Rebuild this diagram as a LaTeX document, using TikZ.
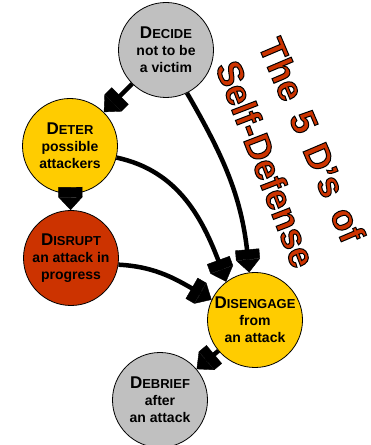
\documentclass[tikz,border=0pt]{standalone}
\usepackage{fontspec}
\setmainfont{Liberation Sans}
\usetikzlibrary{arrows.meta}
\definecolor{dyellow}{HTML}{FFCC00}
\definecolor{dgray}{HTML}{C0C0C0}
\definecolor{dred}{HTML}{CC3300}
\newcommand\bigD[2]{{\fontsize{17}{17}\selectfont #1}{\fontsize{13}{17}\selectfont #2}}
\newcommand\outlinedtext[1]{\textcolor{dred}{\special{pdf:literal direct 2 Tr 1 w 0 0 0 RG}#1\special{pdf:literal direct 0 Tr}}}
\tikzset{
  dcircle/.style={circle, draw=black, line width=0.8pt, minimum size=95pt, inner sep=0pt,
    align=center, font=\bfseries\fontsize{14}{17}\selectfont},
  conn/.style={line width=4.5pt,
    -{Rectangle[length=10pt,width=24pt,sep=0pt,line width=0.4pt]Triangle[length=13pt,width=24pt,sep=0pt,line width=0.4pt]}},
  titletext/.style={font=\bfseries\fontsize{36}{36}\selectfont, inner sep=0pt}
}
\begin{document}
\begin{tikzpicture}[x=1pt,y=1pt]
\useasboundingbox (0,0) rectangle (370,445);
\node[dcircle, fill=dgray]   (decide)    at (166,395) {\bigD{D}{ECIDE}\\not to be\\a victim};
\node[dcircle, fill=dyellow] (deter)     at (70,299)  {\bigD{D}{ETER}\\possible\\attackers};
\node[dcircle, fill=dred]    (disrupt)   at (71,187)  {\bigD{D}{ISRUPT}\\an attack in\\progress};
\node[dcircle, fill=dyellow] (disengage) at (255,125) {\bigD{D}{ISENGAGE}\\from\\an attack};
\node[dcircle, fill=dgray]   (debrief)   at (160,45)  {\bigD{D}{EBRIEF}\\after\\an attack};

\draw[conn] (decide) -- (deter);
\draw[conn] (deter) -- (disrupt);
\draw[conn] (decide.-64) to[out=-60,in=95] (disengage.97);
\draw[conn] (deter.-14) to[out=-12,in=110] (disengage.127);
\draw[conn] (disrupt.-8) to[out=-3,in=150] (disengage.155);
\draw[conn] (disengage) -- (debrief);

\node[titletext, rotate=-67] (t1) at (312,305) {\outlinedtext{The\hspace{5pt} 5\hspace{5pt} D\char"27 s\hspace{5pt} of}};
\node[titletext, rotate=-69] (t2) at (266,281) {\outlinedtext{Self-Defense}};
\end{tikzpicture}
\end{document}
